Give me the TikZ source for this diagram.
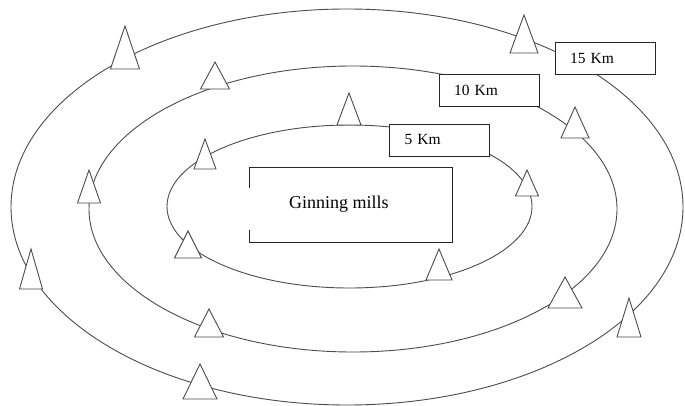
\documentclass[tikz,border=0pt]{standalone}
\usepackage{fontspec}
\setmainfont{Liberation Serif}
\begin{document}
\begin{tikzpicture}[x=1pt,y=-1pt,
  ring/.style={draw=black!70,line width=0.9pt},
  tri/.style={draw=black!70,fill=white,line width=0.9pt,line join=miter},
  kmbox/.style={draw=black!85,fill=white,line width=0.9pt,minimum width=100pt,minimum height=32pt,
    text width=70pt,inner xsep=14pt,align=left,font=\fontsize{15.5}{17}\selectfont},
  mill/.style={minimum width=202pt,minimum height=74pt,inner sep=0pt},
  milltext/.style={anchor=west,inner sep=0pt,font=\fontsize{18}{20}\selectfont}]
\useasboundingbox (0,0) rectangle (685,406);
\fill[white] (0,0) rectangle (685,406);
% rings
\draw[ring] (347,207) ellipse [x radius=336,y radius=198];
\draw[ring] (353,209) ellipse [x radius=264,y radius=143];
\draw[ring] (349.5,206.5) ellipse [x radius=182.5,y radius=81.5];
% distance labels
\node[kmbox] (k15) at (605,58) {15 Km};
\node[kmbox] (k10) at (489,90.5) {10 Km};
\node[kmbox] (k5) at (439.5,140) {5 Km};
% ginning mills
\node[mill] (mill) at (351,205) {};
\draw[black!85,line width=0.9pt] ([yshift=-20pt]mill.north west) -- (mill.north west) -- (mill.north east)
  -- (mill.south east) -- (mill.south west) -- ([yshift=12pt]mill.south west);
\node[milltext] (milllabel) at (289,204) {Ginning mills};
% triangles: apex x, apex y, base width, height
\newcommand\cone[4]{\filldraw[tri] (#1,#2) -- ++(-#3/2,#4) -- ++(#3,0) -- cycle;}
% outer ring
\cone{125}{26}{29}{43}
\cone{524}{15}{28}{38}
\cone{31}{249}{23}{40}
\cone{200}{364}{34}{35}
\cone{629}{298}{24}{39}
% middle ring
\cone{215}{62}{29}{27}
\cone{89}{170}{23}{33}
\cone{209}{309}{29}{28}
\cone{565}{277}{34}{31}
\cone{575}{107}{28}{31}
% inner ring
\cone{349}{93}{24}{32}
\cone{205}{139}{22}{30}
\cone{188}{231}{27}{27}
\cone{439}{249}{26}{31}
\cone{527}{170}{23}{26}
\end{tikzpicture}
\end{document}
